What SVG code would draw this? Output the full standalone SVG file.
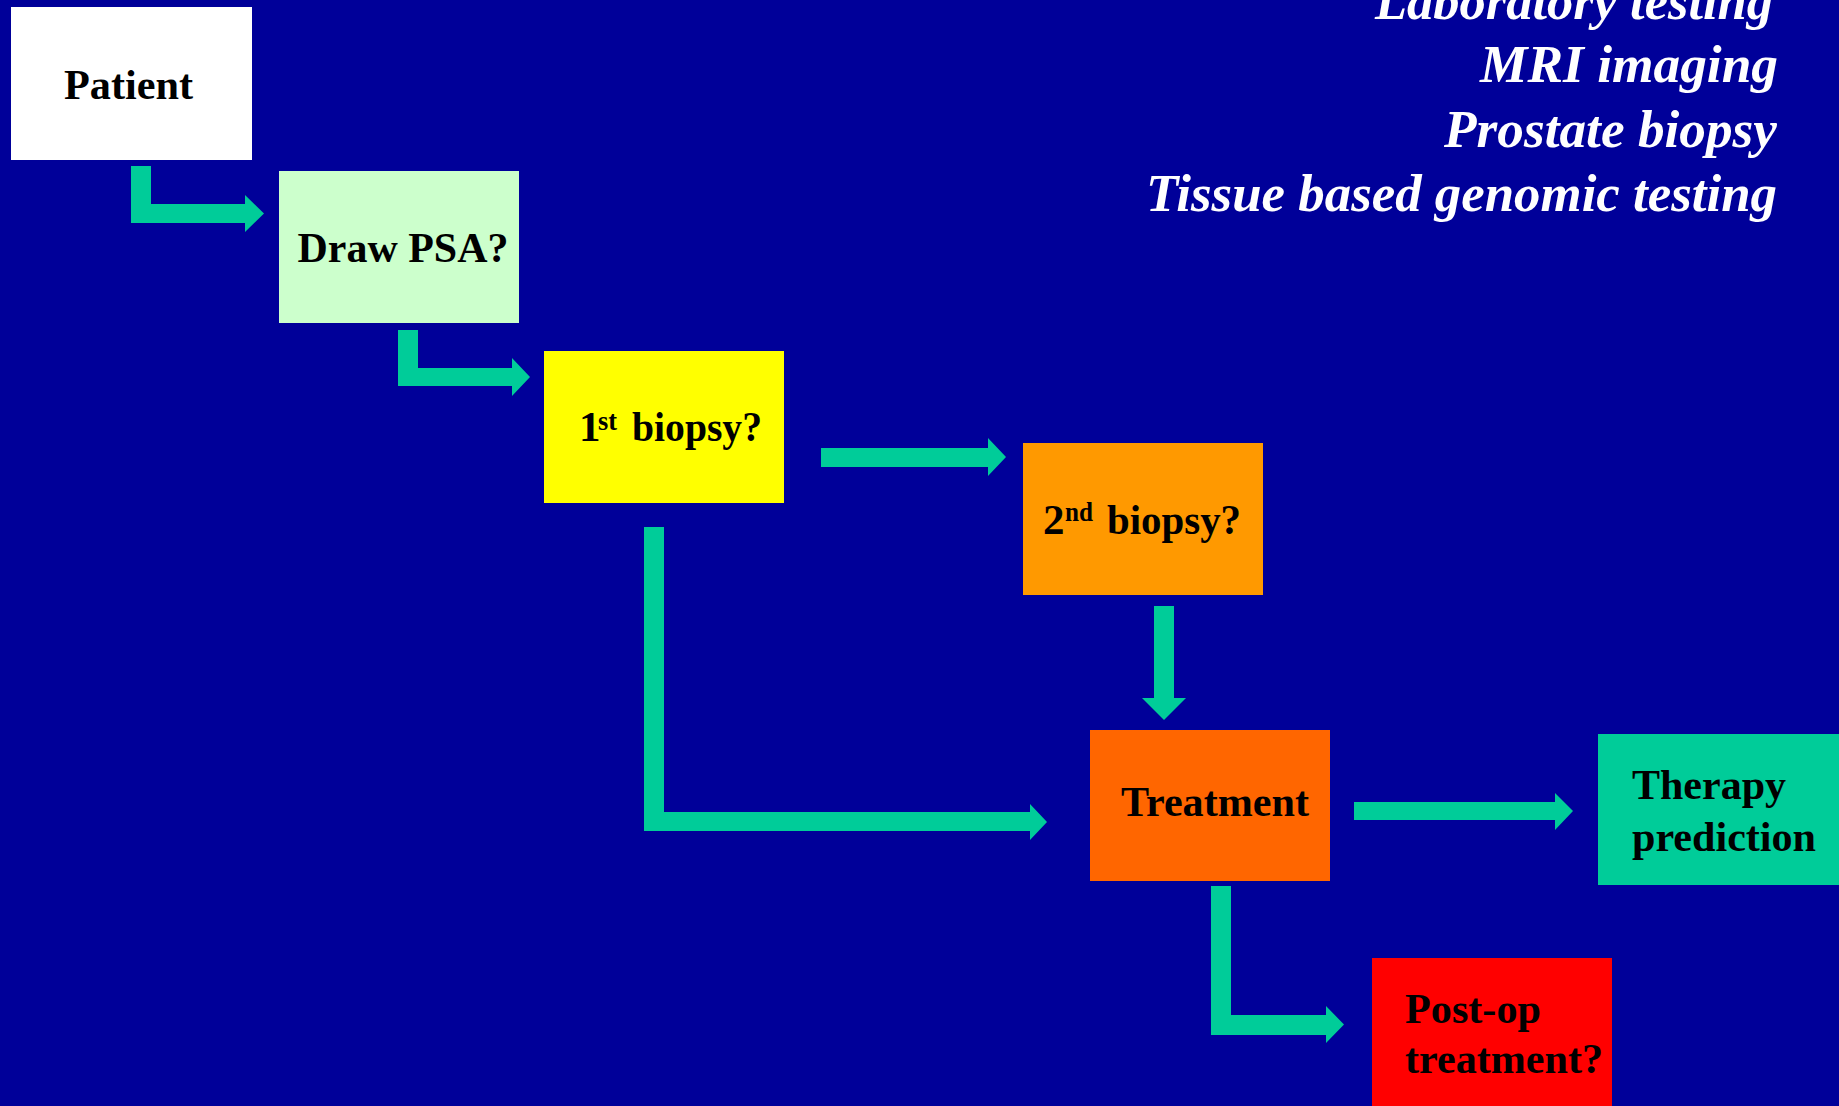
<svg xmlns="http://www.w3.org/2000/svg" width="1839" height="1106" viewBox="0 0 1839 1106">
<style>
.bg{fill:#000099}
.n{font-family:"Liberation Serif","Times New Roman",serif;font-weight:bold;font-size:43px;fill:#000}
.sup{font-family:"Liberation Serif","Times New Roman",serif;font-weight:bold;font-size:28px;fill:#000}
.side{font-family:"Liberation Serif","Times New Roman",serif;font-weight:bold;font-style:italic;font-size:52px;fill:#fff}
.arrow{fill:#00CC99}
</style>
<rect class="bg" x="0" y="0" width="1839" height="1106"/>
<g id="side-list">
<text class="side" x="1375" y="19" textLength="398" lengthAdjust="spacingAndGlyphs">Laboratory testing</text>
<text class="side" x="1480" y="82" textLength="298" lengthAdjust="spacingAndGlyphs">MRI imaging</text>
<text class="side" x="1444" y="147" textLength="333" lengthAdjust="spacingAndGlyphs">Prostate biopsy</text>
<text class="side" x="1146" y="211" textLength="631" lengthAdjust="spacingAndGlyphs">Tissue based genomic testing</text>
</g>
<g id="connectors">
<polygon class="arrow" points="131,166 151,166 151,204 245,204 245,195 264,213.5 245,232 245,223 131,223"/>
<polygon class="arrow" points="398,330 418,330 418,368 512,368 512,358 530,377 512,396 512,386 398,386"/>
<polygon class="arrow" points="821,448 988,448 988,438 1006,457 988,476 988,467 821,467"/>
<polygon class="arrow" points="644,527 664,527 664,812 1030,812 1030,804 1047,822 1030,840 1030,831 644,831"/>
<polygon class="arrow" points="1154,606 1174,606 1174,698 1186,698 1164,720 1142,698 1154,698"/>
<polygon class="arrow" points="1354,802 1555,802 1555,793 1573,811 1555,830 1555,820 1354,820"/>
<polygon class="arrow" points="1211,886 1231,886 1231,1015 1326,1015 1326,1006 1344,1024.5 1326,1043 1326,1035 1211,1035"/>
</g>
<g id="patient">
<rect x="11" y="7" width="241" height="153" fill="#FFFFFF"/>
<text class="n" x="64" y="99" textLength="129" lengthAdjust="spacingAndGlyphs">Patient</text>
</g>
<g id="draw-psa">
<rect x="279" y="171" width="240" height="152" fill="#CCFFCC"/>
<text class="n" x="297.5" y="262" textLength="211" lengthAdjust="spacingAndGlyphs">Draw PSA?</text>
</g>
<g id="first-biopsy">
<rect x="544" y="351" width="240" height="152" fill="#FFFF00"/>
<text class="n" x="579" y="441">1</text>
<text class="sup" x="598" y="430" textLength="19" lengthAdjust="spacingAndGlyphs">st</text>
<text class="n" x="632" y="441" textLength="130" lengthAdjust="spacingAndGlyphs">biopsy?</text>
</g>
<g id="second-biopsy">
<rect x="1023" y="443" width="240" height="152" fill="#FF9900"/>
<text class="n" x="1043" y="534">2</text>
<text class="sup" x="1065" y="521" textLength="28" lengthAdjust="spacingAndGlyphs">nd</text>
<text class="n" x="1107" y="534" textLength="134" lengthAdjust="spacingAndGlyphs">biopsy?</text>
</g>
<g id="treatment">
<rect x="1090" y="730" width="240" height="151" fill="#FF6600"/>
<text class="n" x="1121" y="816" textLength="188" lengthAdjust="spacingAndGlyphs">Treatment</text>
</g>
<g id="therapy-prediction">
<rect x="1598" y="734" width="241" height="151" fill="#00CC99"/>
<text class="n" x="1632" y="799" textLength="154" lengthAdjust="spacingAndGlyphs">Therapy</text>
<text class="n" x="1632" y="851" textLength="184" lengthAdjust="spacingAndGlyphs">prediction</text>
</g>
<g id="post-op">
<rect x="1372" y="958" width="240" height="160" fill="#FF0000"/>
<text class="n" x="1405" y="1023" textLength="136" lengthAdjust="spacingAndGlyphs">Post-op</text>
<text class="n" x="1405" y="1073" textLength="198" lengthAdjust="spacingAndGlyphs">treatment?</text>
</g>
</svg>
